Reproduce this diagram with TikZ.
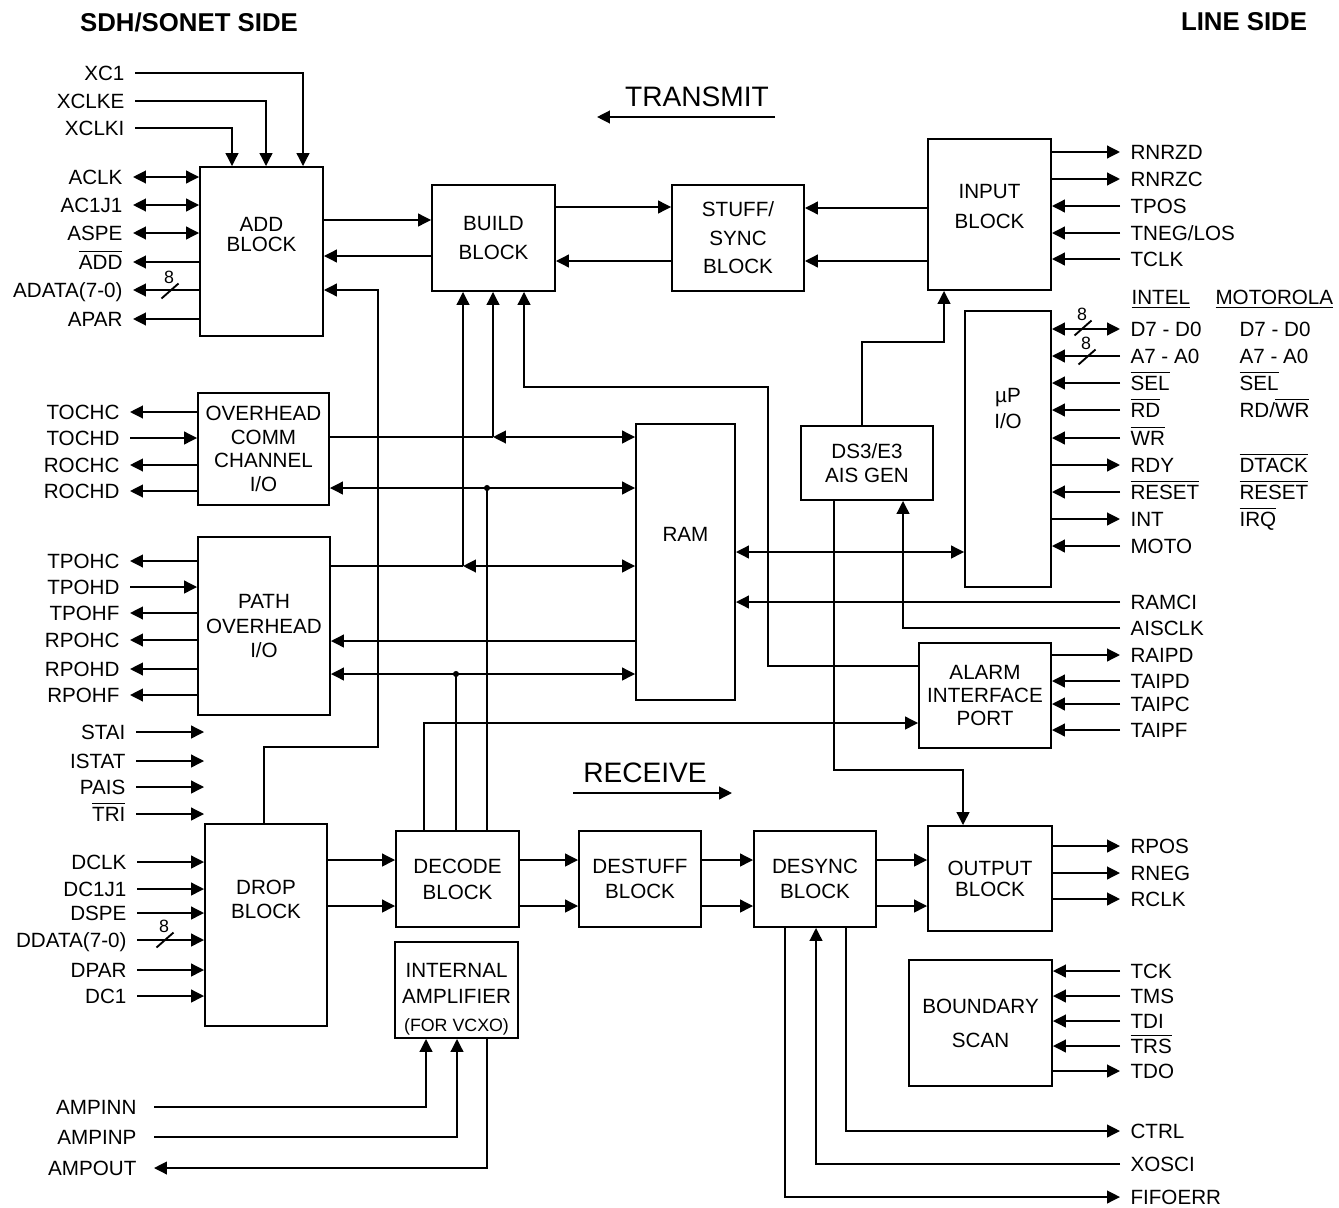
\documentclass[tikz,border=0pt]{standalone}
\usepackage{fontspec}
\setmainfont{Liberation Sans}
\usepackage{tikz}
\usetikzlibrary{arrows.meta}
\newcommand{\sigbar}[1]{$\overline{\mbox{#1}}$}
\tikzset{
  blk/.style={rectangle, draw=black, line width=0.8pt, inner sep=0pt,
    align=center, font=\fontsize{8.8}{10}\selectfont},
  blktxt/.style={anchor=north, align=center, inner sep=0pt,
    font=\fontsize{8.8}{10}\selectfont},
  pinl/.style={anchor=east, font=\fontsize{8.8}{10}\selectfont, inner xsep=4.5pt,
    inner ysep=0pt, outer sep=0pt, text height=6.3pt, text depth=0pt},
  pinr/.style={pinl, anchor=west},
  arr/.style={-{Triangle[length=5.5pt,width=5.4pt]}, line width=0.8pt},
  biarr/.style={{Triangle[length=5.5pt,width=5.4pt]}-{Triangle[length=5.5pt,width=5.4pt]}, line width=0.8pt},
  wire/.style={line width=0.8pt},
  hdr/.style={font=\bfseries\fontsize{11}{13}\selectfont, inner sep=0pt},
  dirlbl/.style={font=\fontsize{12}{14}\selectfont, inner sep=0pt},
  busw/.style={font=\fontsize{7.6}{8}\selectfont, inner sep=0pt}
}
\begin{document}
\begin{tikzpicture}[x=0.015cm, y=-0.015cm]
  \useasboundingbox (0,0) rectangle (1339,1207);
  % Headings
  \node[hdr] (sdhside) at (189,22) {SDH/SONET SIDE};
  \node[hdr] (lineside) at (1244,22) {LINE SIDE};
  \node[dirlbl] (txlbl) at (697,97) {TRANSMIT};
  \coordinate (txa) at (775,117);
  \coordinate (txb) at (597,117);
  \draw[arr] (txa) -- (txb);
  \node[dirlbl] (rxlbl) at (645,773) {RECEIVE};
  \coordinate (rxa) at (573,793);
  \coordinate (rxb) at (732,793);
  \draw[arr] (rxa) -- (rxb);

  % Transmit blocks
  \node[blk, minimum width=1.845cm, minimum height=2.535cm] (add) at (261.5,251.5) {};
  \node[blktxt] (addtxt) at (261.5,217) {ADD\\[-1.5pt]BLOCK};
  \node[blk, minimum width=1.845cm, minimum height=1.59cm] (build) at (493.5,238) {BUILD\\[2pt]BLOCK};
  \node[blk, minimum width=1.98cm, minimum height=1.59cm] (stuff) at (738,238) {STUFF/\\[2.2pt]SYNC\\[2.2pt]BLOCK};
  \node[blk, minimum width=1.845cm, minimum height=2.265cm] (input) at (989.5,214.5) {};
  \node[blktxt] (inputtxt) at (989.5,184) {INPUT\\[2.8pt]BLOCK};
  % Middle blocks
  \node[blk, minimum width=1.965cm, minimum height=1.68cm] (ovh) at (263.5,449) {OVERHEAD\\COMM\\CHANNEL\\I/O};
  \node[blk, minimum width=1.98cm, minimum height=2.67cm] (poh) at (264,626) {PATH\\[0.5pt]OVERHEAD\\[0.5pt]I/O};
  \node[blk, minimum width=1.485cm, minimum height=4.14cm] (ram) at (685.5,562) {};
  \node[blktxt] (ramtxt) at (685.5,527) {RAM};
  \node[blk, minimum width=1.98cm, minimum height=1.11cm] (ds3) at (867,463) {DS3/E3\\AIS GEN};
  \node[blk, minimum width=1.29cm, minimum height=4.14cm] (up) at (1008,449) {};
  \node[blktxt] (uptxt) at (1008,388) {µP\\[1.1pt]I/O};
  \node[blk, minimum width=1.98cm, minimum height=1.575cm] (alarm) at (985,695.5) {ALARM\\INTERFACE\\PORT};
  % Receive blocks
  \node[blk, minimum width=1.83cm, minimum height=3.03cm] (drop) at (266,925) {};
  \node[blktxt] (droptxt) at (266,880) {DROP\\BLOCK};
  \node[blk, minimum width=1.845cm, minimum height=1.44cm] (decode) at (457.5,879) {DECODE\\[1.1pt]BLOCK};
  \node[blk, minimum width=1.845cm, minimum height=1.44cm] (amp) at (456.5,990) {};
  \node[blktxt] (amptxt) at (456.5,963) {INTERNAL\\[1.1pt]AMPLIFIER\\[1.9pt]{\fontsize{7.6}{9}\selectfont(FOR VCXO)}};
  \node[blk, minimum width=1.83cm, minimum height=1.44cm] (destuff) at (640,879) {DESTUFF\\[0.7pt]BLOCK};
  \node[blk, minimum width=1.83cm, minimum height=1.44cm] (desync) at (815,879) {DESYNC\\[0.7pt]BLOCK};
  \node[blk, minimum width=1.86cm, minimum height=1.575cm] (output) at (990,878.5) {OUTPUT\\[-1pt]BLOCK};
  \node[blk, minimum width=2.145cm, minimum height=1.89cm] (bscan) at (980.5,1023) {BOUNDARY\\[4.5pt]SCAN};

  % Add block pins
  \node[pinl] (xc1) at (135,73) {XC1};
  \node[pinl] (xclke) at (135,101) {XCLKE};
  \node[pinl] (xclki) at (135,128) {XCLKI};
  \node[pinl] (aclk) at (133,177) {ACLK};
  \node[pinl] (acj) at (133,205) {AC1J1};
  \node[pinl] (aspe) at (133,233) {ASPE};
  \node[pinl] (addn) at (133,262) {\sigbar{ADD}};
  \node[pinl] (adata) at (133,290) {ADATA(7-0)};
  \node[pinl] (apar) at (133,319) {APAR};
  \draw[arr] (xc1.east) -| (add.north -| 303,0);
  \draw[arr] (xclke.east) -| (add.north -| 266,0);
  \draw[arr] (xclki.east) -| (add.north -| 232,0);
  \draw[biarr] (aclk.east) -- (add.west |- aclk.east);
  \draw[biarr] (acj.east) -- (add.west |- acj.east);
  \draw[biarr] (aspe.east) -- (add.west |- aspe.east);
  \draw[arr] (add.west |- addn.east) -- (addn.east);
  \draw[arr] (add.west |- adata.east) -- (adata.east);
  \draw[arr] (add.west |- apar.east) -- (apar.east);

  % Overhead pins
  \node[pinl] (tochc) at (130,412) {TOCHC};
  \node[pinl] (tochd) at (130,438) {TOCHD};
  \node[pinl] (rochc) at (130,465) {ROCHC};
  \node[pinl] (rochd) at (130,491) {ROCHD};
  \draw[arr] (ovh.west |- tochc.east) -- (tochc.east);
  \draw[arr] (tochd.east) -- (ovh.west |- tochd.east);
  \draw[arr] (ovh.west |- rochc.east) -- (rochc.east);
  \draw[arr] (ovh.west |- rochd.east) -- (rochd.east);
  \node[pinl] (tpohc) at (130,561) {TPOHC};
  \node[pinl] (tpohd) at (130,587) {TPOHD};
  \node[pinl] (tpohf) at (130,613) {TPOHF};
  \node[pinl] (rpohc) at (130,640) {RPOHC};
  \node[pinl] (rpohd) at (130,669) {RPOHD};
  \node[pinl] (rpohf) at (130,695) {RPOHF};
  \draw[arr] (poh.west |- tpohc.east) -- (tpohc.east);
  \draw[arr] (tpohd.east) -- (poh.west |- tpohd.east);
  \draw[arr] (poh.west |- tpohf.east) -- (tpohf.east);
  \draw[arr] (poh.west |- rpohc.east) -- (rpohc.east);
  \draw[arr] (poh.west |- rpohd.east) -- (rpohd.east);
  \draw[arr] (poh.west |- rpohf.east) -- (rpohf.east);

  % Drop block pins
  \node[pinl] (stai) at (136,732) {STAI};
  \node[pinl] (istat) at (136,761) {ISTAT};
  \node[pinl] (pais) at (136,787) {PAIS};
  \node[pinl] (trin) at (136,814) {\sigbar{TRI}};
  \draw[arr] (stai.east) -- (drop.west |- stai.east);
  \draw[arr] (istat.east) -- (drop.west |- istat.east);
  \draw[arr] (pais.east) -- (drop.west |- pais.east);
  \draw[arr] (trin.east) -- (drop.west |- trin.east);
  \node[pinl] (dclk) at (137,862) {DCLK};
  \node[pinl] (dcj) at (137,889) {DC1J1};
  \node[pinl] (dspe) at (137,913) {DSPE};
  \node[pinl] (ddata) at (137,940) {DDATA(7-0)};
  \node[pinl] (dpar) at (137,970) {DPAR};
  \node[pinl] (dc1) at (137,996) {DC1};
  \draw[arr] (dclk.east) -- (drop.west |- dclk.east);
  \draw[arr] (dcj.east) -- (drop.west |- dcj.east);
  \draw[arr] (dspe.east) -- (drop.west |- dspe.east);
  \draw[arr] (ddata.east) -- (drop.west |- ddata.east);
  \draw[arr] (dpar.east) -- (drop.west |- dpar.east);
  \draw[arr] (dc1.east) -- (drop.west |- dc1.east);

  % Amplifier pins
  \node[pinl, inner xsep=7.5pt] (ampinn) at (154,1107) {AMPINN};
  \node[pinl, inner xsep=7.5pt] (ampinp) at (154,1137) {AMPINP};
  \node[pinl, inner xsep=7.5pt] (ampout) at (154,1168) {AMPOUT};
  \draw[arr] (ampinn.east) -| (amp.south -| 426,0);
  \draw[arr] (ampinp.east) -| (amp.south -| 457,0);
  \draw[arr] (amp.south -| 487,0) |- (ampout.east);

  % Input block pins
  \node[pinr] (rnrzd) at (1120,152) {RNRZD};
  \node[pinr] (rnrzc) at (1120,179) {RNRZC};
  \node[pinr] (tpos) at (1120,206) {TPOS};
  \node[pinr] (tneg) at (1120,233) {TNEG/LOS};
  \node[pinr] (tclk) at (1120,259) {TCLK};
  \draw[arr] (input.east |- rnrzd.west) -- (rnrzd.west);
  \draw[arr] (input.east |- rnrzc.west) -- (rnrzc.west);
  \draw[arr] (tpos.west) -- (input.east |- tpos.west);
  \draw[arr] (tneg.west) -- (input.east |- tneg.west);
  \draw[arr] (tclk.west) -- (input.east |- tclk.west);

  % uP pins
  \node[pinr] (intel) at (1121,297) {\underline{INTEL}};
  \node[pinr] (motorola) at (1205,297) {\underline{MOTOROLA}};
  \node[pinr] (d70) at (1120,329) {D7 - D0};
  \node[pinr] (a70) at (1120,356) {A7 - A0};
  \node[pinr] (sel) at (1120,383) {\sigbar{SEL}};
  \node[pinr] (rd) at (1120,410) {\sigbar{RD}};
  \node[pinr] (wr) at (1120,438) {\sigbar{WR}};
  \node[pinr] (rdy) at (1120,465) {RDY};
  \node[pinr] (reset) at (1120,492) {\sigbar{RESET}};
  \node[pinr] (intr) at (1120,519) {INT};
  \node[pinr] (moto) at (1120,546) {MOTO};
  \node[pinr] (md70) at (1229,329) {D7 - D0};
  \node[pinr] (ma70) at (1229,356) {A7 - A0};
  \node[pinr] (msel) at (1229,383) {\sigbar{SEL}};
  \node[pinr] (mrdwr) at (1229,410) {RD/\sigbar{WR}};
  \node[pinr] (mdtack) at (1229,465) {\sigbar{DTACK}};
  \node[pinr] (mreset) at (1229,492) {\sigbar{RESET}};
  \node[pinr] (mirq) at (1229,519) {\sigbar{IRQ}};
  \draw[biarr] (up.east |- d70.west) -- (d70.west);
  \draw[arr] (a70.west) -- (up.east |- a70.west);
  \draw[arr] (sel.west) -- (up.east |- sel.west);
  \draw[arr] (rd.west) -- (up.east |- rd.west);
  \draw[arr] (wr.west) -- (up.east |- wr.west);
  \draw[arr] (up.east |- rdy.west) -- (rdy.west);
  \draw[arr] (reset.west) -- (up.east |- reset.west);
  \draw[arr] (up.east |- intr.west) -- (intr.west);
  \draw[arr] (moto.west) -- (up.east |- moto.west);

  % RAM, AIS and alarm pins
  \node[pinr] (ramci) at (1120,602) {RAMCI};
  \node[pinr] (aisclk) at (1120,628) {AISCLK};
  \node[pinr] (raipd) at (1120,655) {RAIPD};
  \node[pinr] (taipd) at (1120,681) {TAIPD};
  \node[pinr] (taipc) at (1120,704) {TAIPC};
  \node[pinr] (taipf) at (1120,730) {TAIPF};
  \draw[arr] (ramci.west) -- (ram.east |- ramci.west);
  \draw[arr] (aisclk.west) -| (ds3.south -| 903,0);
  \draw[arr] (alarm.east |- raipd.west) -- (raipd.west);
  \draw[arr] (taipd.west) -- (alarm.east |- taipd.west);
  \draw[arr] (taipc.west) -- (alarm.east |- taipc.west);
  \draw[arr] (taipf.west) -- (alarm.east |- taipf.west);

  % Output, boundary scan and desync pins
  \node[pinr] (rpos) at (1120,846) {RPOS};
  \node[pinr] (rneg) at (1120,873) {RNEG};
  \node[pinr] (rclk) at (1120,899) {RCLK};
  \draw[arr] (output.east |- rpos.west) -- (rpos.west);
  \draw[arr] (output.east |- rneg.west) -- (rneg.west);
  \draw[arr] (output.east |- rclk.west) -- (rclk.west);
  \node[pinr] (tck) at (1120,971) {TCK};
  \node[pinr] (tms) at (1120,996) {TMS};
  \node[pinr] (tdi) at (1120,1021) {TDI};
  \node[pinr] (trs) at (1120,1046) {\sigbar{TRS}};
  \node[pinr] (tdo) at (1120,1071) {TDO};
  \draw[arr] (tck.west) -- (bscan.east |- tck.west);
  \draw[arr] (tms.west) -- (bscan.east |- tms.west);
  \draw[arr] (tdi.west) -- (bscan.east |- tdi.west);
  \draw[arr] (trs.west) -- (bscan.east |- trs.west);
  \draw[arr] (bscan.east |- tdo.west) -- (tdo.west);
  \node[pinr] (ctrl) at (1120,1131) {CTRL};
  \node[pinr] (xosci) at (1120,1164) {XOSCI};
  \node[pinr] (fifoerr) at (1120,1197) {FIFOERR};
  \draw[arr] (desync.south -| 846,0) |- (ctrl.west);
  \draw[arr] (xosci.west) -| (desync.south -| 816,0);
  \draw[arr] (desync.south -| 785,0) |- (fifoerr.west);

  % Bus widths
  \foreach \bx/\by/\bn in {170/291/ad, 165/940/dd, 1083/328/dq, 1087/357/aq} {
    \draw[wire] (\bx-8.5,\by+7.5) -- (\bx+8.5,\by-7.5);
    \node[busw] (bus\bn) at (\bx-1,\by-14) {8};
  }

  % Transmit path
  \draw[arr] (add.east |- 0,220) -- (build.west |- 0,220);
  \draw[arr] (build.west |- 0,256) -- (add.east |- 0,256);
  \draw[arr] (build.east |- 0,207) -- (stuff.west |- 0,207);
  \draw[arr] (stuff.west |- 0,261) -- (build.east |- 0,261);
  \draw[arr] (input.west |- 0,208) -- (stuff.east |- 0,208);
  \draw[arr] (input.west |- 0,261) -- (stuff.east |- 0,261);
  \draw[arr] (ds3.north -| 862,0) |- (944,342) -- (input.south -| 944,0);
  \draw[arr] (drop.north -| 264,0) |- (378,747) |- (add.east |- 0,290);

  % RAM buses
  \coordinate (jo) at (493,437);
  \coordinate (jp) at (463,566);
  \draw[wire] (ovh.east |- jo) -- (jo);
  \draw[biarr] (jo) -- (ram.west |- jo);
  \draw[arr] (jo) -- (build.south -| jo);
  \draw[wire] (poh.east |- jp) -- (jp);
  \draw[biarr] (jp) -- (ram.west |- jp);
  \draw[arr] (jp) -- (build.south -| jp);
  \draw[biarr] (ovh.east |- 0,488) -- (ram.west |- 0,488);
  \draw[arr] (ram.west |- 0,641) -- (poh.east |- 0,641);
  \draw[biarr] (poh.east |- 0,674) -- (ram.west |- 0,674);
  \draw[biarr] (ram.east |- 0,552) -- (up.west |- 0,552);
  \draw[arr] (alarm.west |- 0,666) -| (768,387) -| (build.south -| 524,0);

  % Decode taps
  \coordinate (dto) at (487,488);
  \coordinate (dtp) at (456,674);
  \fill (dto) circle (1.3pt);
  \fill (dtp) circle (1.3pt);
  \draw[wire] (dto) -- (decode.north -| dto);
  \draw[wire] (dtp) -- (decode.north -| dtp);
  \draw[arr] (decode.north -| 424,0) |- (alarm.west |- 0,723);
  \draw[arr] (ds3.south -| 834,0) |- (963,770) -- (output.north -| 963,0);

  % Receive path
  \draw[arr] (drop.east |- 0,860) -- (decode.west |- 0,860);
  \draw[arr] (drop.east |- 0,906) -- (decode.west |- 0,906);
  \draw[arr] (decode.east |- 0,860) -- (destuff.west |- 0,860);
  \draw[arr] (decode.east |- 0,906) -- (destuff.west |- 0,906);
  \draw[arr] (destuff.east |- 0,860) -- (desync.west |- 0,860);
  \draw[arr] (destuff.east |- 0,906) -- (desync.west |- 0,906);
  \draw[arr] (desync.east |- 0,860) -- (output.west |- 0,860);
  \draw[arr] (desync.east |- 0,906) -- (output.west |- 0,906);
\end{tikzpicture}
\end{document}
